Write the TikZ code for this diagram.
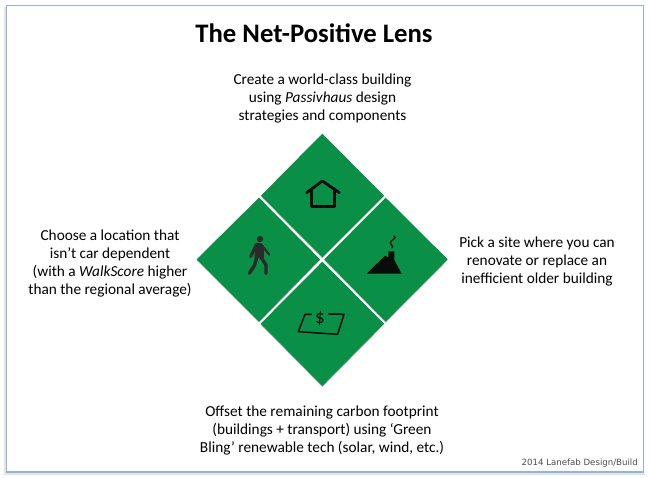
\documentclass[tikz,border=0pt]{standalone}
\usepackage{fontspec}
\setmainfont{Carlito}
\newfontfamily\creditfont{DejaVu Sans}
\definecolor{lensgreen}{HTML}{0A8F47}
\definecolor{framegray}{HTML}{E4E4E4}
\definecolor{frameblue}{HTML}{94B3D6}
\definecolor{iconblack}{HTML}{0A0C0C}
\definecolor{walkgray}{HTML}{2A2A2A}
\tikzset{
  panel/.style={fill=lensgreen},
  panelshadow/.style={fill=black!30},
  caption/.style={align=center,inner sep=0pt,font=\fontsize{15.3}{18}\selectfont,text=black},
  iconline/.style={draw=iconblack,line width=2.8pt,line join=round,line cap=round},
  walkline/.style={draw=walkgray,line cap=round,line join=round}
}
\begin{document}
\begin{tikzpicture}[x=1pt,y=-1pt]
\useasboundingbox (0,0) rectangle (650,477);
\fill[white] (0,0) rectangle (650,477);
% frame
\draw[framegray,line width=2pt] (4.5,7) -- (4.5,474) -- (645,474);
\draw[frameblue,line width=1.6pt] (6.5,5.5) rectangle (643.5,472);
% panels, in zoomed coordinates
\begin{scope}[shift={(190,125)},x=0.3333pt,y=-0.3333pt]
  \fill[panelshadow] (397,30) -- (582,215) -- (397,400) -- (213,215) -- cycle;
  \fill[panelshadow] (587,221) -- (773,406) -- (587,593) -- (403,406) -- cycle;
  \fill[panelshadow] (397,413) -- (582,599) -- (397,786) -- (212,599) -- cycle;
  \fill[panelshadow] (207,221) -- (390,406) -- (207,593) -- (20,406) -- cycle;
  \fill[panel] (397,26) -- (582,212) -- (397,397) -- (213,212) -- cycle;
  \fill[panel] (587,218) -- (773,403) -- (587,590) -- (403,403) -- cycle;
  \fill[panel] (397,410) -- (582,596) -- (397,783) -- (212,596) -- cycle;
  \fill[panel] (207,218) -- (390,403) -- (207,590) -- (20,403) -- cycle;
  % house
  \draw[iconline] (350,203) -- (397,168) -- (448,203);
  \draw[iconline] (364,192) -- (364,244) -- (434,244) -- (434,192);
  % walker
  \fill[walkgray] (210,342) circle[radius=9.5];
  \fill[walkgray] (193,357) .. controls (203,351) and (215,352) .. (221,362) -- (222,400) -- (194,400) -- cycle;
  \draw[walkline,line width=3pt] (196,365) -- (182,395);
  \draw[walkline,line width=2.2pt] (220,367) -- (238,389);
  \draw[walkline,line width=3.4pt] (200,398) -- (193,422) -- (178,445);
  \draw[walkline,line width=3.4pt] (214,398) -- (228,420) -- (228,445);
  % site with chimney
  \fill[iconblack] (530,446) -- (585,392) -- (595,397) -- (595,379) -- (613,379) -- (613,405) -- (635,446) -- cycle;
  \draw[iconblack,line width=1.2pt,line cap=round] (612,333) .. controls (625,340) and (600,345) .. (601,354) .. controls (602,362) and (612,360) .. (606,369);
  % money mat
  \draw[iconblack,line width=1.5pt,line join=round] (366,568) -- (345,568) -- (325,620) -- (443,628) -- (462,568) -- (415,567);
  \node[inner sep=0pt,text=iconblack,font=\fontsize{19}{19}\selectfont] (dollar) at (390,582) {\$};
\end{scope}
% texts
\node[inner sep=0pt,font=\bfseries\fontsize{26.7}{28}\selectfont] (title) at (314,33) {The Net-Positive Lens};
\node[caption] (toptext) at (322.5,98) {Create a world-class building\\using \textit{Passivhaus} design\\strategies and components};
\node[caption] (lefttext) at (110,263) {Choose a location that\\isn’t car dependent\\(with a \textit{WalkScore} higher\\than the regional average)};
\node[caption] (righttext) at (537,261) {Pick a site where you can\\renovate or replace an\\inefficient older building};
\node[caption] (bottomtext) at (322,430) {Offset the remaining carbon footprint\\(buildings + transport) using ‘Green\\Bling’ renewable tech (solar, wind, etc.)};
\node[inner sep=0pt,anchor=east,text=black!70,font=\creditfont\fontsize{8.6}{10}\selectfont] (credit) at (638,463) {2014 Lanefab Design/Build};
\end{tikzpicture}
\end{document}
